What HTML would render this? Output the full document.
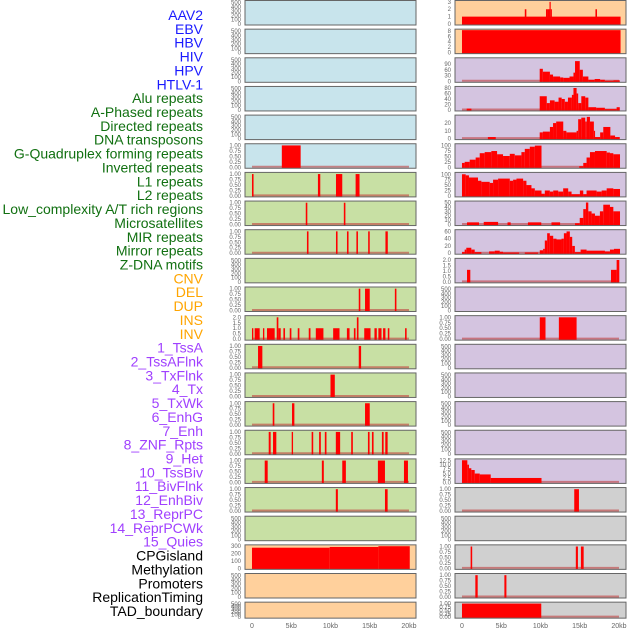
<!DOCTYPE html>
<html><head><meta charset="utf-8"><style>
html,body{margin:0;padding:0;background:#fff;}
svg{display:block;font-family:"Liberation Sans",sans-serif;}
</style></head><body>
<svg id="chart" width="630" height="630" viewBox="0 0 630 630" xmlns="http://www.w3.org/2000/svg"></svg>
<script>
// ---- track labels ----
const labels = ["AAV2","EBV","HBV","HIV","HPV","HTLV-1","Alu repeats","A-Phased repeats","Directed repeats","DNA transposons","G-Quadruplex forming repeats","Inverted repeats","L1 repeats","L2 repeats","Low_complexity A/T rich regions","Microsatellites","MIR repeats","Mirror repeats","Z-DNA motifs","CNV","DEL","DUP","INS","INV","1_TssA","2_TssAFlnk","3_TxFlnk","4_Tx","5_TxWk","6_EnhG","7_Enh","8_ZNF_Rpts","9_Het","10_TssBiv","11_BivFlnk","12_EnhBiv","13_ReprPC","14_ReprPCWk","15_Quies","CPGisland","Methylation","Promoters","ReplicationTiming","TAD_boundary"];
const labelGroups = [6,13,5,15,5];
const xTicks = [0,5,10,15,20];
const xTickLabels = ["0","5kb","10kb","15kb","20kb"];

// ---- tick sets ----
const T500 = ["0","100","200","300","400","500"];
const T1 = ["0.00","0.25","0.50","0.75","1.00"];

// ---- left column segments [startKb, endKb, value] ----
const L06 = [[3.8,6.2,1]];
const L07 = [[0,0.2,1],[8.4,8.7,1],[10.7,11.5,1],[13.2,13.7,1]];
const L08 = [[6.85,7.05,1],[11.7,11.9,1]];
const L09 = [[7.0,7.2,1],[10.7,10.9,1],[12.1,12.3,1],[13.3,13.5,1],[14.8,15.0,1],[17.0,17.3,1]];
const L11 = [[13.6,13.8,1],[14.4,15.0,1],[18.2,18.4,1]];
const L12 = [[0,0.17,1],[0.34,0.98,1],[1.4,1.57,1],[1.91,2.89,1],[3.15,3.36,2],[3.36,3.66,1],[4.0,4.21,1],[4.81,5.02,1],[5.83,6.04,1],[7.23,7.45,1],[8.13,9.1,1],[10.34,11.15,1],[12.09,12.43,1],[12.98,13.19,1],[13.36,13.57,2],[14.3,15.1,1],[15.6,15.9,1],[16.1,16.5,1],[16.7,17.0,1],[17.3,17.5,1],[19.5,19.7,1]];
const L13 = [[0.77,1.32,1],[13.6,13.9,1]];
const L14 = [[10.0,10.55,1]];
const L15 = [[2.64,2.85,1],[5.1,5.4,1],[14.4,15.0,1]];
const L16 = [[2.13,2.38,1],[2.68,3.1,1],[5.06,5.23,1],[7.6,7.8,1],[8.55,8.77,1],[9.28,9.49,1],[10.68,11.23,1],[12.64,12.85,1],[14.77,14.98,1],[15.28,15.49,1],[16.55,16.77,1],[16.98,17.28,1]];
const L17 = [[1.62,2.0,1],[8.9,9.15,1],[11.5,11.96,1],[16.04,16.94,1],[19.36,19.87,1]];
const L18 = [[10.68,10.94,1],[16.94,17.28,1]];
const L20 = [[0,9.9,280],[9.9,16.1,290],[16.1,20.1,300]];

// ---- right column segments ----
const R01 = [[0,20.2,1],[8.0,8.2,2],[10.7,10.9,2],[10.9,11.15,2],[11.15,11.3,3],[11.3,11.4,2],[17.0,17.2,2]];
const R02 = [[0,20.2,9]];
const R03 = [[9.9,10.3,65],[10.3,11.2,50],[11.2,11.6,35],[11.6,12.5,25],[12.5,12.9,20],[12.9,13.7,18],[13.7,14.2,25],[14.2,14.4,45],[14.4,15.0,105],[15.0,15.4,60],[15.4,16.1,25],[16.1,16.9,8],[16.9,17.6,12],[17.6,18.2,8],[18.2,19.3,3],[19.3,20.1,5]];
const R04 = [[0.6,1.2,5],[9.9,10.8,50],[10.8,11.2,25],[11.2,11.8,35],[11.8,12.3,30],[12.3,12.7,45],[12.7,13.1,40],[13.1,13.5,30],[13.5,14.0,45],[14.0,14.2,55],[14.2,14.6,80],[14.6,14.8,60],[14.8,15.2,25],[15.2,15.7,50],[15.7,16.1,45],[16.1,17.1,10],[17.1,18.2,8],[18.2,19.7,3],[19.7,20.1,10]];
const R05 = [[3.3,4.3,2],[9.9,10.3,8],[10.3,11.2,9],[11.2,11.6,15],[11.6,12.0,20],[12.0,12.9,22],[12.9,13.3,10],[13.3,14.6,8],[14.6,14.8,10],[14.8,15.2,25],[15.2,15.7,27],[15.7,15.9,22],[15.9,16.3,28],[16.3,16.8,22],[16.8,16.9,10],[16.9,17.6,2],[17.6,18.0,8],[18.0,18.9,15],[18.9,19.5,4],[19.5,20.1,2]];
const R06 = [[0,0.34,20],[0.34,0.98,25],[0.98,1.74,35],[1.74,2.26,45],[2.26,2.89,65],[2.89,3.74,70],[3.74,4.47,75],[4.47,5.23,60],[5.23,6.09,52],[6.09,6.72,62],[6.72,7.57,55],[7.57,8.0,70],[8.0,8.64,85],[8.64,9.28,95],[9.28,10.13,100],[14.94,15.45,5],[15.45,15.87,20],[15.87,16.3,45],[16.3,16.94,70],[16.94,18.43,75],[18.43,18.85,68],[18.85,19.28,65],[19.28,20.13,60]];
const R07 = [[0,0.47,100],[0.47,0.89,95],[0.89,2.04,85],[2.04,2.47,70],[2.47,3.53,65],[3.53,3.96,60],[3.96,4.6,75],[4.6,6.09,80],[6.09,6.51,70],[6.51,6.94,75],[6.94,7.79,80],[7.79,8.21,70],[8.21,8.85,50],[8.85,9.28,35],[9.28,10.13,25],[10.13,10.55,10],[10.55,11.19,25],[11.19,11.62,20],[11.62,12.26,25],[12.26,12.89,20],[12.89,13.53,35],[13.53,13.96,20],[13.96,15.02,8],[15.02,15.45,25],[15.45,15.87,8],[15.87,17.15,25],[17.15,17.79,20],[17.79,18.43,25],[18.43,19.28,35],[19.28,20.13,32]];
const R08 = [[0.64,2.17,5],[2.77,4.6,6],[5.8,6.2,5],[8.4,10.1,5],[11.4,12.5,5],[14.4,15.0,3],[15.0,15.45,15],[15.45,15.79,35],[15.79,16.09,50],[16.09,16.51,30],[16.51,16.94,25],[16.94,17.57,20],[17.57,18.0,30],[18.0,18.85,45],[18.85,19.28,40],[19.28,20.13,30]];
const R09 = [[0,0.34,3],[0.34,0.55,10],[0.55,1.19,15],[1.19,1.62,10],[1.62,2.47,3],[3.45,4.17,5],[4.17,4.81,7],[4.81,5.23,4],[5.23,7.28,2],[8.0,9.7,2],[9.91,10.34,8],[10.34,10.55,12],[10.55,10.85,35],[10.85,11.19,55],[11.19,11.62,48],[11.62,12.04,40],[12.04,12.68,38],[12.68,12.98,40],[12.98,13.32,55],[13.32,13.74,60],[13.74,14.04,45],[14.04,14.38,20],[14.38,15.11,3],[15.11,15.87,10],[15.87,18.21,7],[18.21,18.85,5],[18.85,19.36,10],[19.36,20.13,12]];
const R10 = [[0.64,1.06,1.1],[18.98,19.7,1.1],[19.7,20.04,2.0]];
const R12 = [[9.91,10.64,1],[12.34,14.6,1]];
const R17 = [[0,0.68,12.5],[0.68,0.89,10],[0.89,1.19,8],[1.19,1.62,7],[1.62,2.26,5],[2.26,3.66,4.5],[3.66,10.13,2.5]];
const R18 = [[14.3,14.9,1]];
const R20 = [[1.1,1.3,1],[14.5,14.77,1],[15.15,15.5,1]];
const R21 = [[1.7,2.0,1],[5.4,5.66,1]];
const R22 = [[0,10.1,1]];

// panel configs: [col,row,bg,ticks,ymax,segs,baseline]
const BLUE="#c8e4ec",GREEN="#c8e0a4",ORANGE="#ffd09c",PURPLE="#d4c4e0",GRAY="#d0d0d0";
const panels = [
 [0,0,BLUE,T500,525,[],false],[0,1,BLUE,T500,525,[],false],[0,2,BLUE,T500,525,[],false],[0,3,BLUE,T500,525,[],false],[0,4,BLUE,T500,525,[],false],
 [0,5,BLUE,T1,1.03,L06,true],[0,6,GREEN,T1,1.03,L07,true],[0,7,GREEN,T1,1.03,L08,true],[0,8,GREEN,T1,1.03,L09,true],
 [0,9,GREEN,T500,525,[],false],[0,10,GREEN,T1,1.03,L11,true],[0,11,GREEN,["0.0","0.5","1.0","1.5","2.0"],2.06,L12,true],
 [0,12,GREEN,T1,1.03,L13,true],[0,13,GREEN,T1,1.03,L14,true],[0,14,GREEN,T1,1.03,L15,true],[0,15,GREEN,T1,1.03,L16,true],
 [0,16,GREEN,T1,1.03,L17,true],[0,17,GREEN,T1,1.03,L18,true],[0,18,GREEN,T500,525,[],false],
 [0,19,ORANGE,["0","100","200","300"],305,L20,false],[0,20,ORANGE,T500,525,[],false],[0,21,ORANGE,T500,525,[],false],
 [1,0,ORANGE,["0","1","2","3"],3.05,R01,false],[1,1,ORANGE,["0","2","4","6","8"],8.24,R02,false],
 [1,2,PURPLE,["0","30","60","90"],117,R03,true],[1,3,PURPLE,["0","20","40","60","80"],82,R04,true],
 [1,4,PURPLE,["0","10","20"],29,R05,true],[1,5,PURPLE,["0","25","50","75","100"],104,R06,true],
 [1,6,PURPLE,["0","25","50","75","100"],104,R07,true],[1,7,PURPLE,["0","10","20","30","40","50"],51,R08,true],
 [1,8,PURPLE,["0","20","40","60"],62,R09,true],[1,9,PURPLE,["0.0","0.5","1.0","1.5","2.0"],2.06,R10,true],
 [1,10,PURPLE,T500,525,[],false],[1,11,PURPLE,T1,1.03,R12,true],[1,12,PURPLE,T500,525,[],false],
 [1,13,PURPLE,T500,525,[],false],[1,14,PURPLE,T500,525,[],false],[1,15,PURPLE,T500,525,[],false],
 [1,16,PURPLE,["0.0","2.5","5.0","7.5","10.0","12.5"],12.7,R17,true],[1,17,GRAY,T1,1.03,R18,true],
 [1,18,GRAY,T500,525,[],false],[1,19,GRAY,T1,1.03,R20,true],[1,20,GRAY,T1,1.03,R21,true],[1,21,GRAY,T1,1.03,R22,true]
];

const NS="http://www.w3.org/2000/svg";
const svg=document.getElementById('chart');
function mk(tag,attrs,parent){const e=document.createElementNS(NS,tag);for(const k in attrs)e.setAttribute(k,attrs[k]);(parent||svg).appendChild(e);return e;}

// labels
const groupColors=["#1a1aff","#117011","#ffa500","#a040ff","#000000"];
let li=0;
labelGroups.forEach((n,g)=>{for(let k=0;k<n;k++){
  const t=mk('text',{x:203,y:20+li*13.86,'text-anchor':'end','font-size':'14',fill:groupColors[g]});
  t.textContent=labels[li];
  
  
  li++;}});

const colX=[245,455], PW=171, KB0=-0.89, PXKB=7.85;
function rowTop(r){return 0.5+r*28.65;}
function rowH(r){return r===21?16:24.5;}
function xs(col,kb){return colX[col]+(kb-KB0)*PXKB;}

panels.forEach((p,i)=>{
  const [col,row,bg,ticks,ymax,segs,base]=p;
  const top=rowTop(row),h=rowH(row),bot=top+h;
  const ys=v=>bot-1-Math.min(v/ymax,1)*(h-2);
  const g=mk('g',{});
  
  
  const bgR=mk('rect',{x:colX[col],y:top,width:PW,height:h,fill:bg},g);
  
  
  if(base){
    const bl=mk('line',{x1:xs(col,0),x2:xs(col,20),y1:bot-1.5,y2:bot-1.5,stroke:'#c04040','stroke-opacity':0.6,'stroke-width':2},g);
    
    
  }
  segs.forEach(s=>{
    const x1=xs(col,s[0]),x2=xs(col,s[1]),y=ys(s[2]);
    const r=mk('rect',{x:x1,y:y,width:Math.max(x2-x1,1.2),height:bot-y,fill:'#ff0000'},g);
    
    
  });
  mk('rect',{x:colX[col],y:top,width:PW,height:h,fill:'none',stroke:'#666','stroke-width':1},g);
  const n=ticks.length, tmax=parseFloat(ticks[n-1]);
  ticks.forEach(t=>{
    const v=parseFloat(t);
    const tt=mk('text',{x:colX[col]-4,y:ys(v)+2,'text-anchor':'end','font-size':'6',fill:'#666'},g);
    tt.textContent=t;
    
    
  });
});

// x axes
[0,1].forEach(col=>{
  xTicks.forEach((k,j)=>{
    const t=mk('text',{x:xs(col,k),y:628,'text-anchor':'middle','font-size':'7',fill:'#666'});
    t.textContent=xTickLabels[j];
    
    
  });
});
</script>
</body></html>
